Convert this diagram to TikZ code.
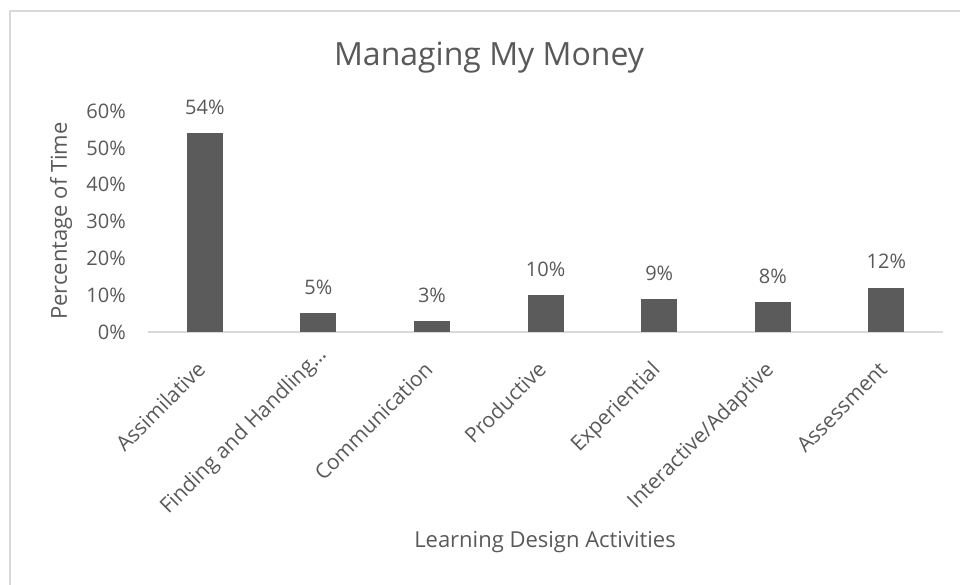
\documentclass[tikz,border=0pt]{standalone}
\usepackage{fontspec}
\setmainfont{Open Sans}
\usepackage{xcolor}
\usetikzlibrary{positioning,calc}
\definecolor{txtgray}{HTML}{595959}
\definecolor{bargray}{HTML}{5B5B5B}
\definecolor{linegray}{HTML}{D9D9D9}

\begin{document}
\begin{tikzpicture}[x=1pt, y=1pt,
    bar/.style={fill=bargray, draw=none, minimum width=36pt, anchor=south, inner sep=0pt},
    vallabel/.style={text=txtgray, font=\fontsize{20}{22}\selectfont, inner sep=0pt},
    ticklabel/.style={text=txtgray, font=\fontsize{20}{22}\selectfont, inner sep=0pt, anchor=east},
    catlabel/.style={text=txtgray, font=\fontsize{21}{23}\selectfont, inner sep=0pt, rotate=45, anchor=base east},
    axistitle/.style={text=txtgray, font=\fontsize{22}{24}\selectfont, inner sep=0pt}]
    \useasboundingbox (0,0) rectangle (960,585);

    % Frame
    \draw[linegray, line width=2pt] (10,0) -- (10,574) -- (960,574);

    % Title
    \node[text=txtgray, font=\fontsize{32}{36}\selectfont, inner sep=0pt, anchor=base] (title) at (489,519) {Managing My Money};

    % Axis
    \coordinate (axisL) at (148,253);
    \coordinate (axisR) at (943,253);
    \draw[linegray, line width=1.5pt] (axisL) -- (axisR);

    % Tick labels
    \node[ticklabel] (t0) at (126,253) {0\%};
    \node[ticklabel] (t10) at (126,289.8) {10\%};
    \node[ticklabel] (t20) at (126,326.6) {20\%};
    \node[ticklabel] (t30) at (126,363.4) {30\%};
    \node[ticklabel] (t40) at (126,400.2) {40\%};
    \node[ticklabel] (t50) at (126,437) {50\%};
    \node[ticklabel] (t60) at (126,473.8) {60\%};

    % Bars
    \node[bar, minimum height=198.7pt] (assim) at (204.8,253) {};
    \node[bar, minimum height=18.4pt] (finding) at (318.4,253) {};
    \node[bar, minimum height=11pt] (comm) at (432,253) {};
    \node[bar, minimum height=36.8pt] (prod) at (545.6,253) {};
    \node[bar, minimum height=33.1pt] (exper) at (659.2,253) {};
    \node[bar, minimum height=29.4pt] (inter) at (772.8,253) {};
    \node[bar, minimum height=44.2pt] (assess) at (886.4,253) {};

    % Value labels
    \node[vallabel, above=18pt of assim] (vassim) {54\%};
    \node[vallabel, above=18pt of finding] (vfinding) {5\%};
    \node[vallabel, above=18pt of comm] (vcomm) {3\%};
    \node[vallabel, above=18pt of prod] (vprod) {10\%};
    \node[vallabel, above=18pt of exper] (vexper) {9\%};
    \node[vallabel, above=18pt of inter] (vinter) {8\%};
    \node[vallabel, above=18pt of assess] (vassess) {12\%};

    % Category labels
    \node[catlabel] (lassim) at (206.8,214) {Assimilative};
    \node[catlabel] (lfinding) at (327.4,229) {Finding and Handling\dots};
    \node[catlabel] (lcomm) at (434,214) {Communication};
    \node[catlabel] (lprod) at (547.6,214) {Productive};
    \node[catlabel] (lexper) at (661.2,214) {Experiential};
    \node[catlabel] (linter) at (774.8,214) {Interactive/Adaptive};
    \node[catlabel] (lassess) at (888.4,214) {Assessment};

    % Axis titles
    \node[axistitle, anchor=base] (xtitle) at (545,37) {Learning Design Activities};
    \node[axistitle, rotate=90] (ytitle) at (61,364) {Percentage of Time};
\end{tikzpicture}
\end{document}
